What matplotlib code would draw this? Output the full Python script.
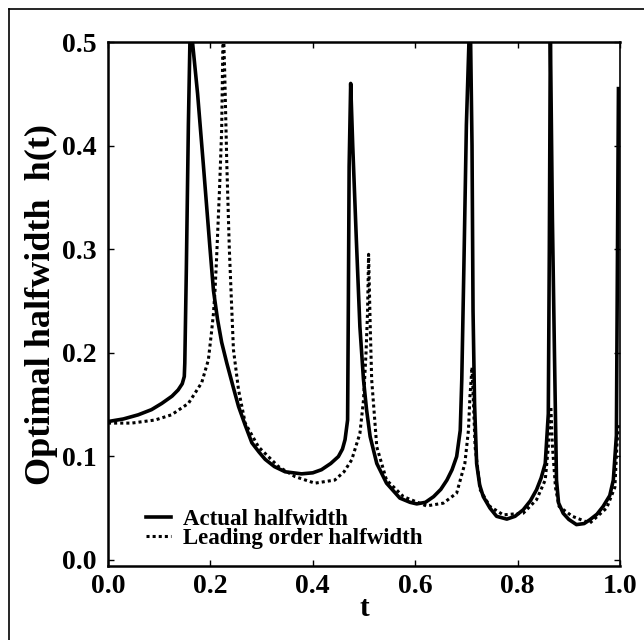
import matplotlib
matplotlib.use("Agg")
import matplotlib.pyplot as plt
from matplotlib.lines import Line2D

# actual halfwidth h(t)
t_actual = [0.0, 0.03, 0.059, 0.085, 0.105, 0.125, 0.137, 0.145, 0.149, 0.150,
            0.153, 0.157, 0.160, 0.163, 0.175, 0.186, 0.199, 0.206, 0.214, 0.222,
            0.232, 0.245, 0.255, 0.268, 0.281, 0.295, 0.307, 0.325, 0.346, 0.378,
            0.40, 0.417, 0.435, 0.45, 0.458, 0.463, 0.468, 0.4695, 0.471, 0.474,
            0.478, 0.485, 0.492, 0.499, 0.505, 0.512, 0.525, 0.544, 0.57, 0.59,
            0.603, 0.62, 0.636, 0.65, 0.662, 0.672, 0.681, 0.688, 0.691, 0.695,
            0.700, 0.705, 0.708, 0.711, 0.713, 0.716, 0.720, 0.726, 0.733, 0.746,
            0.759, 0.779, 0.795, 0.811, 0.825, 0.837, 0.846, 0.854, 0.860, 0.862,
            0.864, 0.868, 0.872, 0.876, 0.880, 0.889, 0.900, 0.915, 0.930, 0.941,
            0.955, 0.967, 0.980, 0.987, 0.993, 0.997]
h_actual = [0.1335, 0.136, 0.140, 0.145, 0.151, 0.158, 0.164, 0.170, 0.177, 0.19,
            0.28, 0.42, 0.50, 0.51, 0.45, 0.383, 0.302, 0.26, 0.232, 0.21,
            0.19, 0.166, 0.148, 0.13, 0.113, 0.104, 0.097, 0.09, 0.085, 0.083,
            0.084, 0.087, 0.093, 0.0997, 0.107, 0.116, 0.135, 0.25, 0.38, 0.46,
            0.40, 0.31, 0.225, 0.174, 0.145, 0.119, 0.093, 0.074, 0.0596, 0.0555,
            0.054, 0.0555, 0.061, 0.068, 0.077, 0.087, 0.0997, 0.125, 0.174, 0.28,
            0.42, 0.50, 0.51, 0.40, 0.24, 0.15, 0.093, 0.072, 0.061, 0.05,
            0.042, 0.0393, 0.042, 0.0483, 0.057, 0.0676, 0.079, 0.093, 0.141, 0.30,
            0.51, 0.33, 0.20, 0.077, 0.055, 0.045, 0.039, 0.034, 0.035, 0.0386,
            0.044, 0.0515, 0.062, 0.077, 0.12, 0.455]

# leading order halfwidth
t_lead = [0.0, 0.046, 0.092, 0.124, 0.157, 0.183, 0.196, 0.202, 0.206, 0.209,
          0.212, 0.218, 0.222, 0.225, 0.228, 0.232, 0.237, 0.241, 0.245, 0.255,
          0.268, 0.294, 0.333, 0.365, 0.404, 0.443, 0.461, 0.476, 0.492, 0.499,
          0.504, 0.507, 0.509, 0.512, 0.515, 0.525, 0.544, 0.577, 0.622, 0.655,
          0.681, 0.697, 0.704, 0.707, 0.711, 0.714, 0.717, 0.727, 0.746, 0.772,
          0.811, 0.837, 0.854, 0.860, 0.863, 0.865, 0.868, 0.874, 0.881, 0.907,
          0.941, 0.974, 0.990, 0.994, 0.997]
h_lead = [0.132, 0.132, 0.135, 0.14, 0.151, 0.171, 0.193, 0.219, 0.238, 0.26,
          0.29, 0.36, 0.415, 0.52, 0.47, 0.383, 0.30, 0.251, 0.203, 0.164,
          0.132, 0.109, 0.09, 0.0804, 0.074, 0.077, 0.085, 0.0965, 0.122, 0.154,
          0.2, 0.24, 0.295, 0.229, 0.174, 0.109, 0.077, 0.061, 0.052, 0.0547,
          0.0644, 0.093, 0.125, 0.158, 0.186, 0.15, 0.109, 0.0676, 0.0515, 0.0434,
          0.045, 0.058, 0.077, 0.109, 0.145, 0.148, 0.11, 0.07, 0.0515, 0.042,
          0.0354, 0.05, 0.07, 0.11, 0.132]

xticks = [0.0, 0.2, 0.4, 0.6, 0.8, 1.0]
yticks = [0.0, 0.1, 0.2, 0.3, 0.4, 0.5]

plt.rcParams['font.family'] = ['Liberation Serif', 'DejaVu Serif']
plt.rcParams['font.weight'] = 'bold'

fig = plt.figure(figsize=(6.44, 6.4), dpi=100)
ax = fig.add_axes([0.1677, 0.1156, 0.795, 0.81875])

ax.plot(t_actual, h_actual, color='black', lw=2.6, solid_joinstyle='round',
        label='Actual halfwidth')
ax.plot(t_lead, h_lead, color='black', lw=2.2, linestyle=(0, (1, 1)),
        dash_capstyle='butt', label='Leading order halfwidth')

ax.set_xlim(0, 1)
ax.set_ylim(-0.006, 0.5)
ax.set_xticks(xticks)
ax.set_yticks(yticks)
ax.set_xticklabels(['%.1f' % v for v in xticks])
ax.set_yticklabels(['%.1f' % v for v in yticks])
ax.tick_params(direction='in', length=4, width=1, top=True, right=True,
               labelsize=20, pad=8)
ax.tick_params(axis='x', pad=6)
for lab in ax.get_xticklabels() + ax.get_yticklabels():
    lab.set_fontweight('bold')

for side in ['left', 'bottom', 'top']:
    ax.spines[side].set_linewidth(1.8)
ax.spines['right'].set_linewidth(1.2)

ax.set_xlabel('t', fontsize=21, fontweight='bold', labelpad=-3)
ax.set_ylabel('Optimal halfwidth  h(t)', fontsize=26, fontweight='bold', labelpad=3)

leg = ax.legend(loc='lower left', bbox_to_anchor=(0.074, 0.033), frameon=False,
                fontsize=16.5, handlelength=1.1, handletextpad=0.5,
                labelspacing=-0.09, borderpad=0, borderaxespad=0)
for txt in leg.get_texts():
    txt.set_fontweight('bold')

# outer frame (left and top edges as in the scan)
fig.add_artist(Line2D([0.014, 0.014], [0.0, 0.986], color='black', lw=1.2))
fig.add_artist(Line2D([0.014, 1.0], [0.986, 0.986], color='black', lw=1.2))

fig.savefig('out.png', dpi=100)
